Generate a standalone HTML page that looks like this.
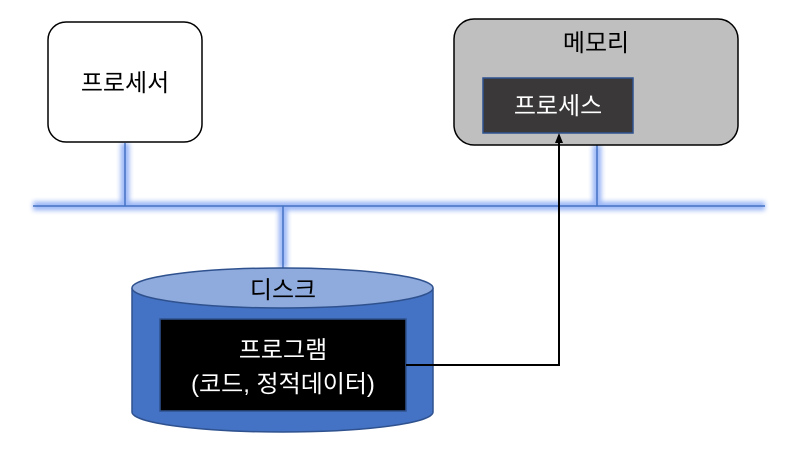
<!DOCTYPE html>
<html><head><meta charset="utf-8"><style>
body{margin:0;background:#fff;width:787px;height:459px;overflow:hidden}
text{font-family:"Liberation Sans","Noto Sans CJK KR",sans-serif}
</style></head><body>
<svg width="787" height="459" viewBox="0 0 787 459" xmlns="http://www.w3.org/2000/svg">
<defs><filter id="g" x="-20%" y="-20%" width="140%" height="140%"><feGaussianBlur stdDeviation="2.5"/></filter></defs>
<g stroke="#4d7ff0" stroke-width="9" opacity="0.55" filter="url(#g)" fill="none">
<line x1="33" y1="206" x2="765" y2="206"/>
<line x1="125" y1="143" x2="125" y2="206"/>
<line x1="283" y1="206" x2="283" y2="268"/>
<line x1="597" y1="145" x2="597" y2="206"/>
</g>
<g stroke="#4472c4" stroke-width="1.5" fill="none">
<line x1="33" y1="206" x2="765" y2="206"/>
<line x1="125" y1="143" x2="125" y2="206"/>
<line x1="283" y1="206" x2="283" y2="268"/>
<line x1="597" y1="145" x2="597" y2="206"/>
</g>
<rect x="48" y="22" width="154" height="120" rx="18" fill="#fff" stroke="#000" stroke-width="1.5"/>
<text x="125" y="91" font-size="24" text-anchor="middle">프로세서</text>
<rect x="454" y="19" width="284" height="126" rx="20" fill="#bfbfbf" stroke="#000" stroke-width="1.5"/>
<text x="596" y="51" font-size="24" text-anchor="middle">메모리</text>
<rect x="483" y="78" width="150" height="55" fill="#3a3838" stroke="#2f528f" stroke-width="1.5"/>
<text x="558" y="114" font-size="24" fill="#fff" text-anchor="middle">프로세스</text>
<path d="M132 288 L132 412 A150.5 20 0 0 0 433 412 L433 288" fill="#4472c4" stroke="#2f528f" stroke-width="1.5"/>
<ellipse cx="282.5" cy="288" rx="150.5" ry="20" fill="#8faadc" stroke="#2f528f" stroke-width="1.5"/>
<text x="283" y="298" font-size="24" text-anchor="middle">디스크</text>
<rect x="160" y="319" width="246" height="92" fill="#000" stroke="#2f528f" stroke-width="1.5"/>
<text x="283" y="358" font-size="24" fill="#fff" text-anchor="middle">프로그램</text>
<text x="283" y="392" font-size="24" fill="#fff" text-anchor="middle">(코드, 정적데이터)</text>
<polyline points="406,365 559,365 559,142" fill="none" stroke="#000" stroke-width="2"/>
<polygon points="559,133 555,143 563,143" fill="#000"/>
</svg>
</body></html>
